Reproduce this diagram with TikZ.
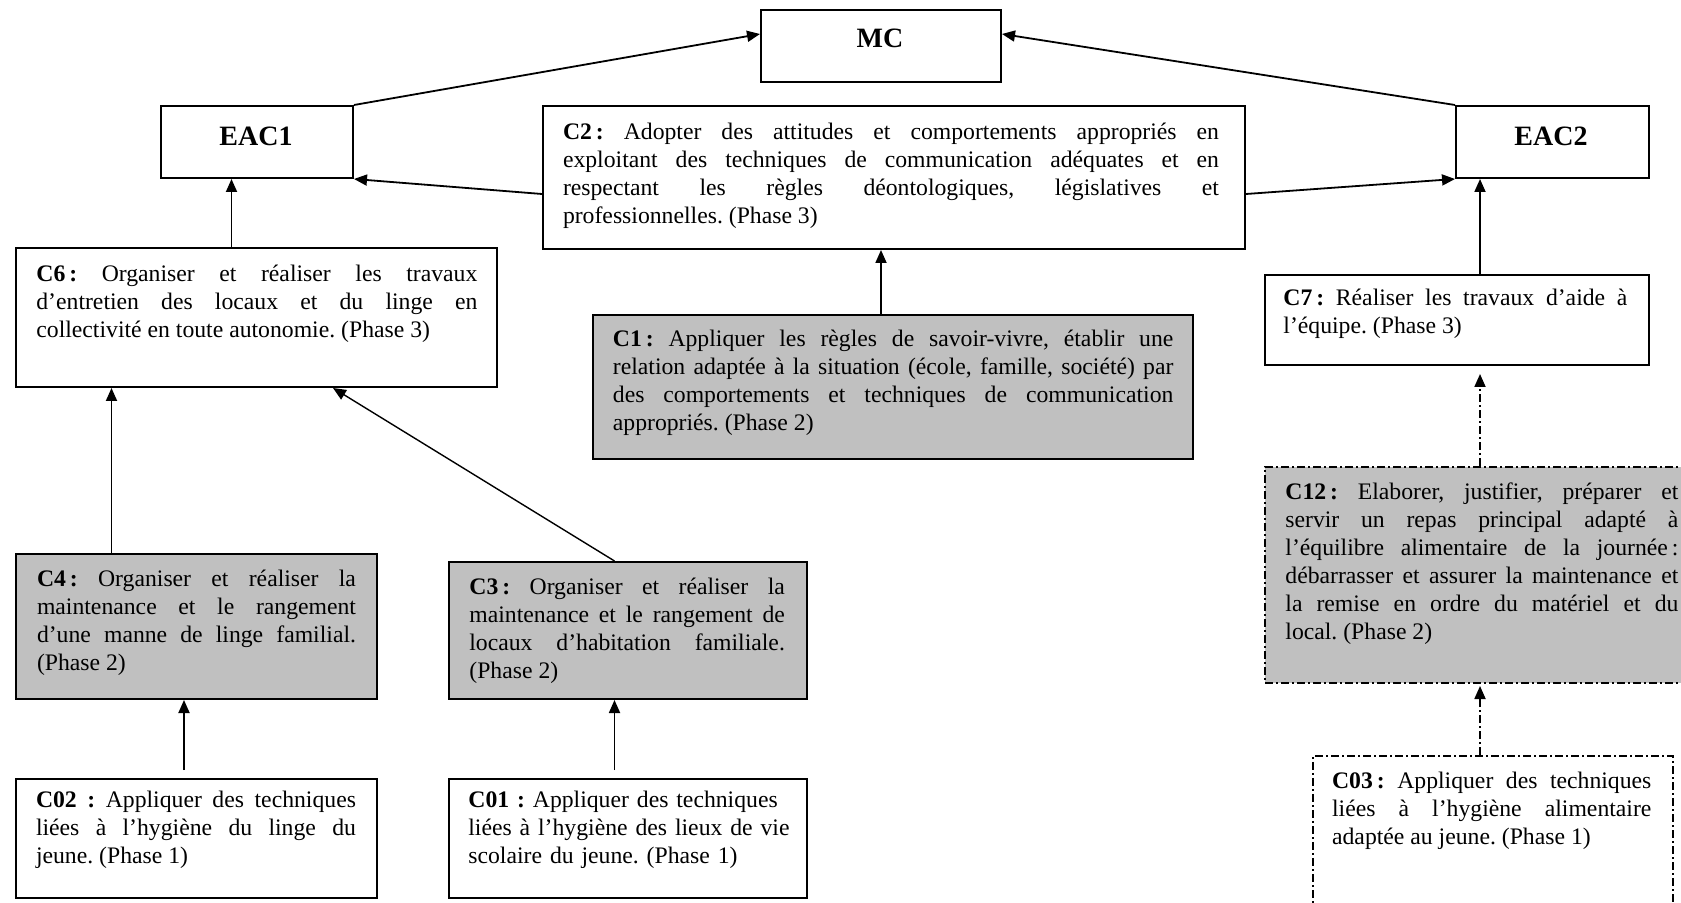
\documentclass[tikz,border=0pt]{standalone}
\usepackage{fontspec}
\setmainfont{Liberation Serif}
\usetikzlibrary{arrows.meta}
\definecolor{fillgray}{RGB}{192,192,192}

\begin{document}
\begin{tikzpicture}[x=0.5pt,y=-0.5pt,
  box/.style={draw, line width=1pt, inner sep=0pt, anchor=north west},
  graybox/.style={box, fill=fillgray},
  dashdot/.style={dash pattern=on 4pt off 1.5pt on 1pt off 1.5pt},
  txt/.style={anchor=north west, inner sep=0pt, align=justify,
    font=\fontsize{11.85}{14}\selectfont,
    execute at begin node={\frenchspacing\hyphenpenalty=10000\exhyphenpenalty=10000\tolerance=10000\pretolerance=-1}},
  ragtxt/.style={txt, align=left},
  head/.style={inner sep=0pt, font=\fontsize{14}{16}\selectfont\bfseries},
  conn/.style={line width=0.9pt, -{Triangle[length=6.5pt,width=5.5pt]}},
  dconn/.style={conn, dashdot}
]
% page frame
\useasboundingbox (0,0) rectangle (1681,903);
\clip (0,0) rectangle (1681,903);
\fill[white] (0,0) rectangle (1681,903);

% ---- top level ----
\node[box, minimum width=120pt, minimum height=36pt] (MC) at (760,9) {};
\node[head] (MCt) at (880,38) {MC};

\node[box, minimum width=96pt, minimum height=36pt] (EAC1) at (160,105) {};
\node[head] (EAC1t) at (256,136) {EAC1};

\node[box, minimum width=96.5pt, minimum height=36pt] (EAC2) at (1455,105) {};
\node[head] (EAC2t) at (1551,136) {EAC2};

% ---- phase 3 ----
\node[box, minimum width=351pt, minimum height=71.5pt] (C2) at (542,105) {};
\node[txt, text width=328pt] (C2t) at (562.6,119.1) {\strut\textbf{C2\,:} Adopter des attitudes et comportements appropriés en\linebreak exploitant des techniques de communication adéquates et en\linebreak respectant les règles déontologiques, législatives et\linebreak professionnelles. (Phase 3)};

\node[box, minimum width=240.5pt, minimum height=69.5pt] (C6) at (15,247) {};
\node[txt, text width=220.5pt] (C6t) at (36,261.1) {\strut\textbf{C6\,:} Organiser et réaliser les travaux\linebreak d’entretien des locaux et du linge en\linebreak collectivité en toute autonomie. (Phase 3)};

\node[box, minimum width=192pt, minimum height=45pt] (C7) at (1264,274) {};
\node[txt, text width=172pt] (C7t) at (1283,285.9) {\strut\textbf{C7\,:} Réaliser les travaux d’aide à\linebreak l’équipe. (Phase 3)};

% ---- phase 2 ----
\node[graybox, minimum width=300pt, minimum height=72pt] (C1) at (592,314) {};
\node[txt, text width=280.25pt] (C1t) at (612.5,326.4) {\strut\textbf{C1\,:} Appliquer les règles de savoir-vivre, établir une\linebreak relation adaptée à la situation (école, famille, société) par\linebreak des comportements et techniques de communication\linebreak appropriés. (Phase 2)};

\node[graybox, dashdot, minimum width=220pt, minimum height=108pt] (C12) at (1264,466) {};
\node[txt, text width=196.5pt] (C12t) at (1285,479.4) {\strut\textbf{C12\,:} Elaborer, justifier, préparer et\linebreak servir un repas principal adapté à\linebreak l’équilibre alimentaire de la journée\,:\linebreak débarrasser et assurer la maintenance et\linebreak la remise en ordre du matériel et du\linebreak local. (Phase 2)};

\node[graybox, minimum width=180.5pt, minimum height=72.5pt] (C4) at (15,553) {};
\node[txt, text width=159.5pt] (C4t) at (36.6,566.4) {\strut\textbf{C4\,:} Organiser et réaliser la\linebreak maintenance et le rangement\linebreak d’une manne de linge familial.\linebreak (Phase 2)};

\node[graybox, minimum width=179pt, minimum height=68.5pt] (C3) at (448,561) {};
\node[txt, text width=157.75pt] (C3t) at (469,574.4) {\strut\textbf{C3\,:} Organiser et réaliser la\linebreak maintenance et le rangement de\linebreak locaux d’habitation familiale.\linebreak (Phase 2)};

% ---- phase 1 ----
\node[box, minimum width=180.5pt, minimum height=59.5pt] (C02) at (15,778) {};
\node[txt, text width=160pt] (C02t) at (35.6,787.4) {\strut\textbf{C02 :} Appliquer des techniques\linebreak liées à l’hygiène du linge du\linebreak jeune. (Phase 1)};

\node[box, minimum width=179pt, minimum height=59.5pt] (C01) at (448,778) {};
\node[ragtxt, text width=170pt] (C01t) at (468,787.4) {\strut\textbf{C01 :} Appliquer des techniques\\ liées à l’hygiène des lieux de vie\\ scolaire du jeune. (Phase 1)};

\node[box, dashdot, line width=0.8pt, minimum width=180pt, minimum height=85pt] (C03) at (1312,755) {};
\node[txt, text width=159.65pt] (C03t) at (1331.7,768.4) {\strut\textbf{C03\,:} Appliquer des techniques\linebreak liées à l’hygiène alimentaire\linebreak adaptée au jeune. (Phase 1)};

% ---- connector columns ----
\coordinate (xC6) at (231.5,0);
\coordinate (xC1) at (881,0);
\coordinate (xC7) at (1480,0);
\coordinate (xC4) at (111.5,0);
\coordinate (xC02) at (184,0);
\coordinate (xC01) at (614.5,0);
\coordinate (xC3tip) at (333,0);

% ---- connectors ----
\draw[conn] (EAC1.north east) -- ([yshift=6pt]MC.west);
\draw[conn] (EAC2.north west) -- ([yshift=6pt]MC.east);
\draw[conn] ([yshift=-8.25pt]C2.west) -- (EAC1.south east);
\draw[conn] ([yshift=-8.25pt]C2.east) -- (EAC2.south west);
\draw[conn] (C6.north -| xC6) -- (EAC1.south -| xC6);
\draw[conn] (C1.north -| xC1) -- (C2.south -| xC1);
\draw[conn] (C7.north -| xC7) -- (EAC2.south -| xC7);
\draw[dconn, shorten >=4pt] (C12.north -| xC7) -- (C7.south -| xC7);
\draw[dconn, shorten >=1pt] (C03.north -| xC7) -- (C12.south -| xC7);
\draw[conn] (C4.north -| xC4) -- (C6.south -| xC4);
\draw[conn, line width=0.7pt] (C3.north -| xC01) -- (C6.south -| xC3tip);
\draw[conn, shorten <=4pt] (C02.north -| xC02) -- (C4.south -| xC02);
\draw[conn, shorten <=4pt] (C01.north -| xC01) -- (C3.south -| xC01);
\end{tikzpicture}
\end{document}
